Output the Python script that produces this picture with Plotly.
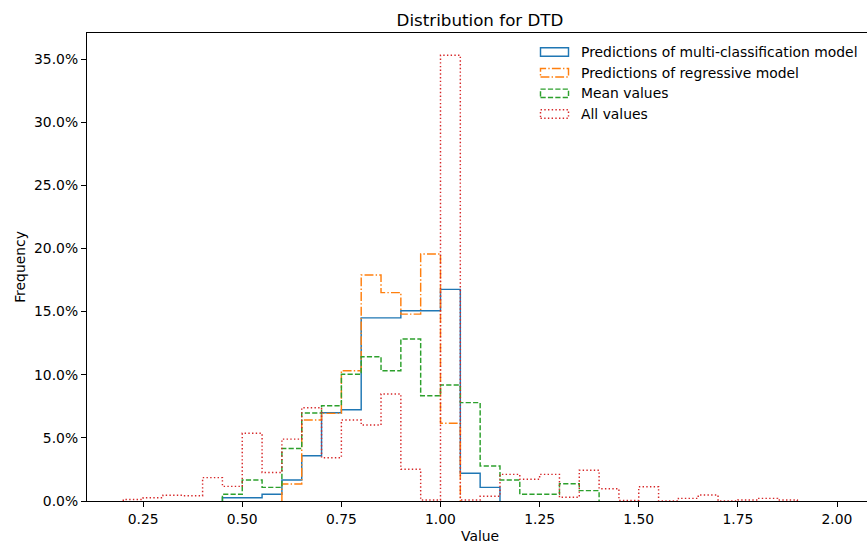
import plotly.graph_objects as go

# ---------------- data (percent per 0.05-wide bin) ----------------
bin_width = 0.05
first_edge = 0.20

# left bin edges 0.20 ... 1.85
multi_cls_start = 0.45
multi_cls = [0.26, 0.26, 0.53, 1.66, 3.59, 6.99, 7.23, 14.5, 14.5, 15.07, 15.07, 16.76, 2.19, 1.08]

regressive_start = 0.60
regressive = [1.35, 6.41, 6.94, 10.32, 17.9, 16.5, 14.8, 19.56, 6.15]

mean_start = 0.45
mean_vals = [0.53, 1.66, 1.08, 4.15, 6.97, 7.55, 10.03, 11.43, 10.32, 12.83, 8.34, 9.18,
             7.79, 2.77, 1.66, 0.53, 0.53, 1.37, 0.82]

all_start = 0.20
all_vals = [0.12, 0.26, 0.45, 0.42, 1.85, 1.16, 5.36, 2.25, 4.9, 7.38, 3.43, 6.41, 6.02, 8.47,
            2.51, 0.08, 35.3, 0.08, 0.38, 2.11, 1.72, 2.11, 0.29, 2.43, 0.97, 0.05, 1.13, 0.0,
            0.21, 0.47, 0.0, 0.08, 0.21, 0.08]

series_names = ["Predictions of multi-classification model", "Predictions of regressive model",
                "Mean values", "All values"]
x_ticks = [0.25, 0.50, 0.75, 1.00, 1.25, 1.50, 1.75, 2.00]
y_ticks = [0.0, 0.05, 0.10, 0.15, 0.20, 0.25, 0.30, 0.35]

# ---------------- styles ----------------
colors = ["#1f77b4", "#ff7f0e", "#2ca02c", "#d62728"]
dashes = ["solid", "8.9px,2.2px,1.4px,2.2px", "5.2px,2.2px", "1.4px,2.3px"]
LW = 1.45
FONT = "DejaVu Sans"

W, H = 867, 543
L, R, T, B = 87, 0, 33, 42


def step_xy(start, vals):
    n = len(vals)
    edges = [round(start + i * bin_width, 4) for i in range(n + 1)]
    xs = [edges[0]] + edges + [edges[-1]]
    ys = [0.0] + [v / 100 for v in vals] + [vals[-1] / 100, 0.0]
    return xs, ys


fig = go.Figure()
data = [(multi_cls_start, multi_cls), (regressive_start, regressive),
        (mean_start, mean_vals), (all_start, all_vals)]
for (start, vals), name, c, d in zip(data, series_names, colors, dashes):
    xs, ys = step_xy(start, vals)
    fig.add_trace(go.Scatter(x=xs, y=ys, mode="lines", line_shape="hv", name=name,
                             line=dict(color=c, width=LW, dash=d), showlegend=False,
                             hoverinfo="skip"))

pw, ph = W - L - R, H - T - B


def px_x(px):
    return (px - L) / pw


def px_y(py):
    return (H - B - py) / ph


# manual legend with outlined patch handles
row_y = [52, 72.7, 93.3, 114]
shapes = []
annotations = []
for name, c, d, yy in zip(series_names, colors, dashes, row_y):
    shapes.append(dict(type="rect", xref="paper", yref="paper",
                       x0=px_x(540.5), x1=px_x(568.5), y0=px_y(yy + 4.2), y1=px_y(yy - 4.2),
                       line=dict(color=c, width=LW, dash=d), fillcolor="rgba(0,0,0,0)"))
    annotations.append(dict(text=name, xref="paper", yref="paper", x=px_x(579), y=px_y(yy),
                            xanchor="left", yanchor="middle", showarrow=False,
                            font=dict(family=FONT, size=13.9, color="black")))

annotations.append(dict(text="Value", xref="paper", yref="paper", x=px_x(480), y=px_y(536),
                        xanchor="center", yanchor="middle", showarrow=False,
                        font=dict(family=FONT, size=13.9, color="black")))

fig.update_layout(
    width=W, height=H,
    margin=dict(l=L, r=R, t=T, b=B, pad=0),
    paper_bgcolor="white", plot_bgcolor="white",
    font=dict(family=FONT, size=13.9, color="black"),
    title=dict(text="Distribution for DTD", xref="container", yref="container",
               x=480 / W, y=1 - 20 / H, xanchor="center", yanchor="middle",
               font=dict(family=FONT, size=16.7, color="black")),
    shapes=shapes,
    annotations=annotations,
    xaxis=dict(range=[(L - 44) / 396.5, (W - 44) / 396.5], tickvals=x_ticks,
               ticktext=[f"{v:.2f}" for v in x_ticks],
               showgrid=False, zeroline=False, showline=True, linecolor="black", linewidth=1.1,
               mirror=True, ticks="outside", ticklen=5, tickwidth=1.1, tickcolor="black",
               tickfont=dict(family=FONT, size=13.9, color="black")),
    yaxis=dict(range=[0, 0.3706], tickvals=y_ticks, tickformat=".1%",
               showgrid=False, zeroline=False, showline=True, linecolor="black", linewidth=1.1,
               mirror=False, ticks="outside", ticklen=5, tickwidth=1.1, tickcolor="black",
               tickfont=dict(family=FONT, size=13.9, color="black"),
               title=dict(text="Frequency", standoff=5,
                          font=dict(family=FONT, size=13.9, color="black"))),
)

fig.write_html("out.html")
